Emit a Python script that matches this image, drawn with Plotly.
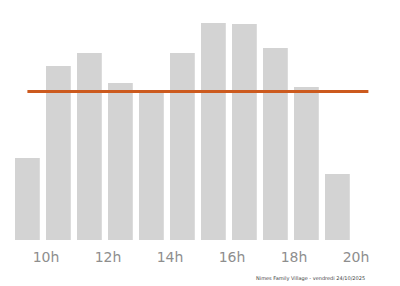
import plotly.graph_objects as go

hours = [9, 10, 11, 12, 13, 14, 15, 16, 17, 18, 19]
visits = [82, 174, 187, 157, 147, 187, 217, 216, 192, 153, 66]
average = 148.5
tick_vals = [10, 12, 14, 16, 18, 20]
tick_text = ["10h", "12h", "14h", "16h", "18h", "20h"]
caption = "Nimes Family Village - vendredi 24/10/2025"

fig = go.Figure()
fig.add_trace(go.Bar(x=hours, y=visits, offset=0, width=0.8,
                     marker=dict(color="#d3d3d3", line=dict(width=0)),
                     showlegend=False, hoverinfo="skip"))
fig.add_trace(go.Scatter(x=[hours[0] + 0.4, hours[-1] + 1.4], y=[average, average],
                         mode="lines", line=dict(color="#cc5a1e", width=3),
                         showlegend=False, hoverinfo="skip"))

fig.update_layout(
    width=400, height=286,
    margin=dict(l=0, r=0, t=0, b=46),
    paper_bgcolor="white", plot_bgcolor="white",
    xaxis=dict(range=[10 - 46 / 31, 10 + 354 / 31], tickvals=tick_vals, ticktext=tick_text,
               showgrid=False, zeroline=False, showline=False, ticks="",
               ticklabelstandoff=7,
               tickfont=dict(family="DejaVu Sans", size=14, color="#8e8e8e")),
    yaxis=dict(range=[0, 240], visible=False, showgrid=False, zeroline=False),
    annotations=[dict(text=caption, x=310 / 400, y=(286 - 278 - 46) / 240,
                      xref="paper", yref="paper", xanchor="center", yanchor="middle",
                      showarrow=False, font=dict(family="DejaVu Sans", size=5, color="#444"))],
)
fig.write_html("out.html")
